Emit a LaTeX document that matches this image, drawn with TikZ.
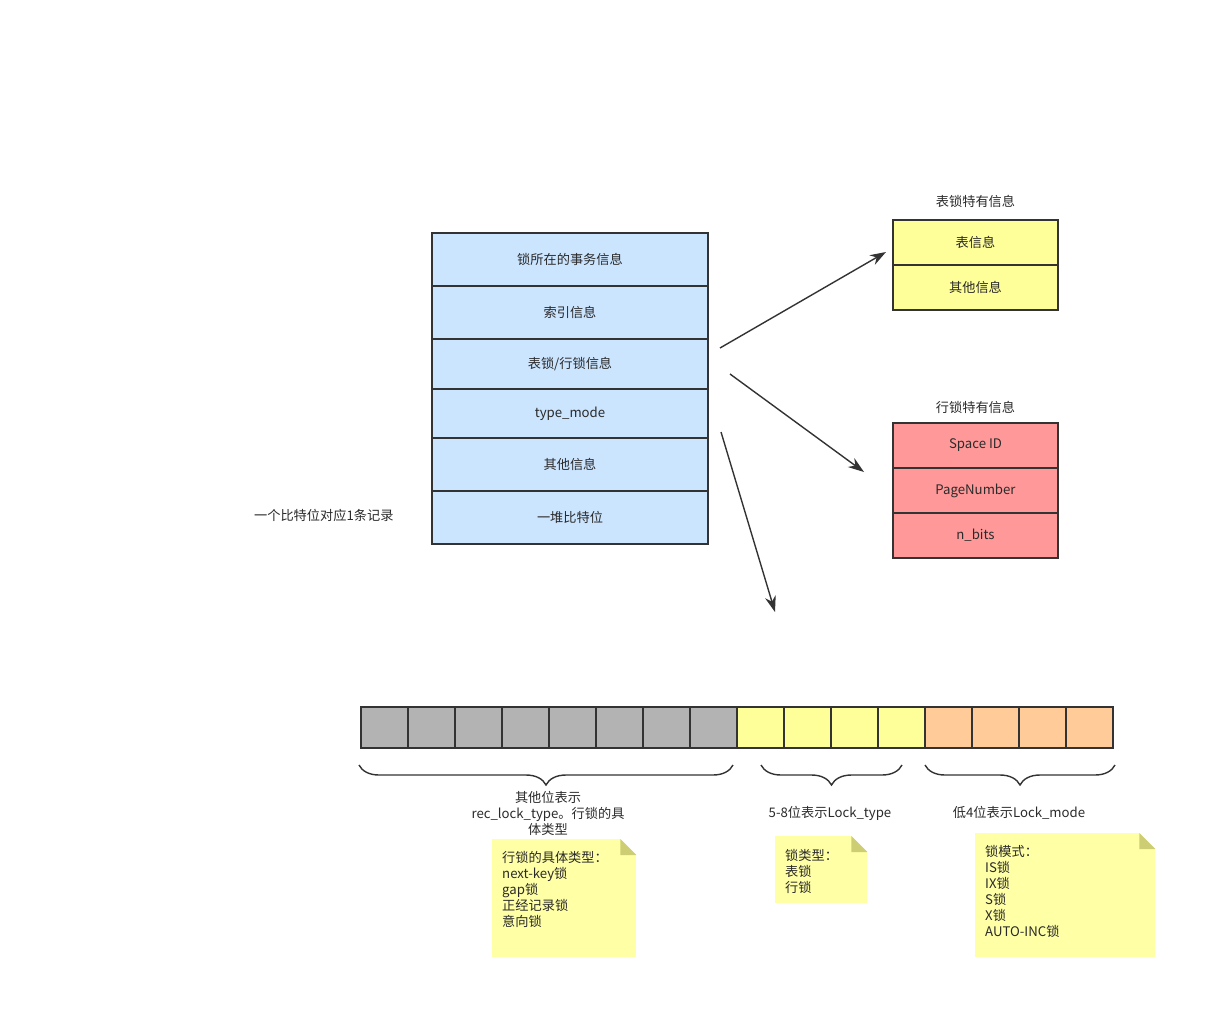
\documentclass[tikz,border=0pt]{standalone}
\usepackage{fontspec}
\setmainfont{Noto Sans CJK SC}
\usetikzlibrary{positioning,decorations.pathreplacing,arrows.meta}

\definecolor{linegray}{HTML}{333333}
\definecolor{txtgray}{HTML}{2A2A2A}
\definecolor{lockblue}{HTML}{CCE5FF}
\definecolor{lockyellow}{HTML}{FFFF99}
\definecolor{lockred}{HTML}{FF9999}
\definecolor{bitgray}{HTML}{B3B3B3}
\definecolor{bitorange}{HTML}{FFCC99}
\definecolor{notefill}{HTML}{FFFFA6}
\definecolor{notefold}{HTML}{CDCD73}

\begin{document}
\begin{tikzpicture}[x=1pt,y=1pt]
   \tikzstyle{every node}=[font=\fontsize{13.2}{16}\selectfont, text=txtgray]
   \tikzstyle{field}=[draw=linegray, line width=1.4pt, inner sep=0pt, outer sep=0pt]
   \tikzstyle{bit}=[field, minimum width=47pt, minimum height=41pt, anchor=north west]
   \tikzstyle{note}=[fill=notefill, inner sep=0pt, anchor=north west]
   \tikzstyle{notetext}=[anchor=north west, align=left, inner sep=0pt]
   \tikzstyle{pointer}=[draw=linegray, line width=1.4pt, -{Stealth[length=16pt,width=11pt]}]
   \tikzstyle{bracket}=[draw=linegray, line width=1.4pt, decorate, decoration={brace, mirror, amplitude=20pt}]

\useasboundingbox (0,0) rectangle (1218,-1018);

% lock struct
\node[field, fill=lockblue, minimum width=276pt, minimum height=53pt, anchor=north west] (trx) at (432,-233) {锁所在的事务信息};
\node[field, fill=lockblue, minimum width=276pt, minimum height=53pt, below=0pt of trx] (index) {索引信息};
\node[field, fill=lockblue, minimum width=276pt, minimum height=50pt, below=0pt of index] (tabrec) {表锁/行锁信息};
\node[field, fill=lockblue, minimum width=276pt, minimum height=49pt, below=0pt of tabrec] (typemode) {type\_mode};
\node[field, fill=lockblue, minimum width=276pt, minimum height=53pt, below=0pt of typemode] (other) {其他信息};
\node[field, fill=lockblue, minimum width=276pt, minimum height=53pt, below=0pt of other] (bits) {一堆比特位};
\node[left=35pt of bits, yshift=2pt] (bitnote) {一个比特位对应1条记录};

% table lock
\node[field, fill=lockyellow, minimum width=165pt, minimum height=45pt, anchor=north west] (tinfo) at (893,-220) {表信息};
\node[field, fill=lockyellow, minimum width=165pt, minimum height=45pt, below=0pt of tinfo] (tother) {其他信息};
\node[above=9pt of tinfo] (ttitle) {表锁特有信息};

% record lock
\node[field, fill=lockred, minimum width=165pt, minimum height=45pt, anchor=north west] (space) at (893,-423) {Space ID};
\node[field, fill=lockred, minimum width=165pt, minimum height=45pt, below=0pt of space] (page) {PageNumber};
\node[field, fill=lockred, minimum width=165pt, minimum height=45pt, below=0pt of page] (nbits) {n\_bits};
\node[above=6pt of space] (rtitle) {行锁特有信息};

% arrows
\coordinate (p1) at (720,-348);
\coordinate (q1) at (886,-252);
\coordinate (p2) at (730,-374);
\coordinate (q2) at (864,-472);
\coordinate (p3) at (721,-432);
\coordinate (q3) at (775,-612);
\draw[pointer] (p1) -- (q1);
\draw[pointer] (p2) -- (q2);
\draw[pointer] (p3) -- (q3);

% type_mode bits
\foreach \i in {1,...,8}
   \node[bit, fill=bitgray] (b\i) at ({361+47*(\i-1)},-707) {};
\foreach \i in {9,...,12}
   \node[bit, fill=lockyellow] (b\i) at ({361+47*(\i-1)},-707) {};
\foreach \i in {13,...,16}
   \node[bit, fill=bitorange] (b\i) at ({361+47*(\i-1)},-707) {};

\draw[bracket] ([xshift=-2pt,yshift=-17pt]b1.south west) -- ([xshift=-4pt,yshift=-17pt]b8.south east);
\draw[bracket] ([xshift=24pt,yshift=-17pt]b9.south west) -- ([xshift=-23pt,yshift=-17pt]b12.south east);
\draw[bracket] ([yshift=-17pt]b13.south west) -- ([xshift=2pt,yshift=-17pt]b16.south east);

\node[align=center] (restlbl) at (548,-813) {其他位表示\\rec\_lock\_type。行锁的具\\体类型};
\node (typelbl) at (830,-813) {5-8位表示Lock\_type};
\node (modelbl) at (1019,-813) {低4位表示Lock\_mode};

% notes
\node[note, minimum width=144pt, minimum height=118pt] (nrec) at (492,-839) {};
\node[note, minimum width=92pt, minimum height=67pt] (ntype) at (775,-836) {};
\node[note, minimum width=180pt, minimum height=124pt] (nmode) at (975,-833) {};
\foreach \n in {nrec,ntype,nmode} {
   \fill[white] ([xshift=-16pt]\n.north east) -- (\n.north east) -- ([yshift=-16pt]\n.north east) -- cycle;
   \fill[notefold] ([xshift=-16pt]\n.north east) -- ([xshift=-16pt,yshift=-16pt]\n.north east) -- ([yshift=-16pt]\n.north east) -- cycle;
}
\node[notetext] (nrectxt) at ([xshift=10pt,yshift=-12pt]nrec.north west) {行锁的具体类型：\\next-key锁\\gap锁\\正经记录锁\\意向锁};
\node[notetext] (ntypetxt) at ([xshift=10pt,yshift=-13pt]ntype.north west) {锁类型：\\表锁\\行锁};
\node[notetext] (nmodetxt) at ([xshift=10pt,yshift=-12pt]nmode.north west) {锁模式：\\IS锁\\IX锁\\S锁\\X锁\\AUTO-INC锁};

\end{tikzpicture}
\end{document}
